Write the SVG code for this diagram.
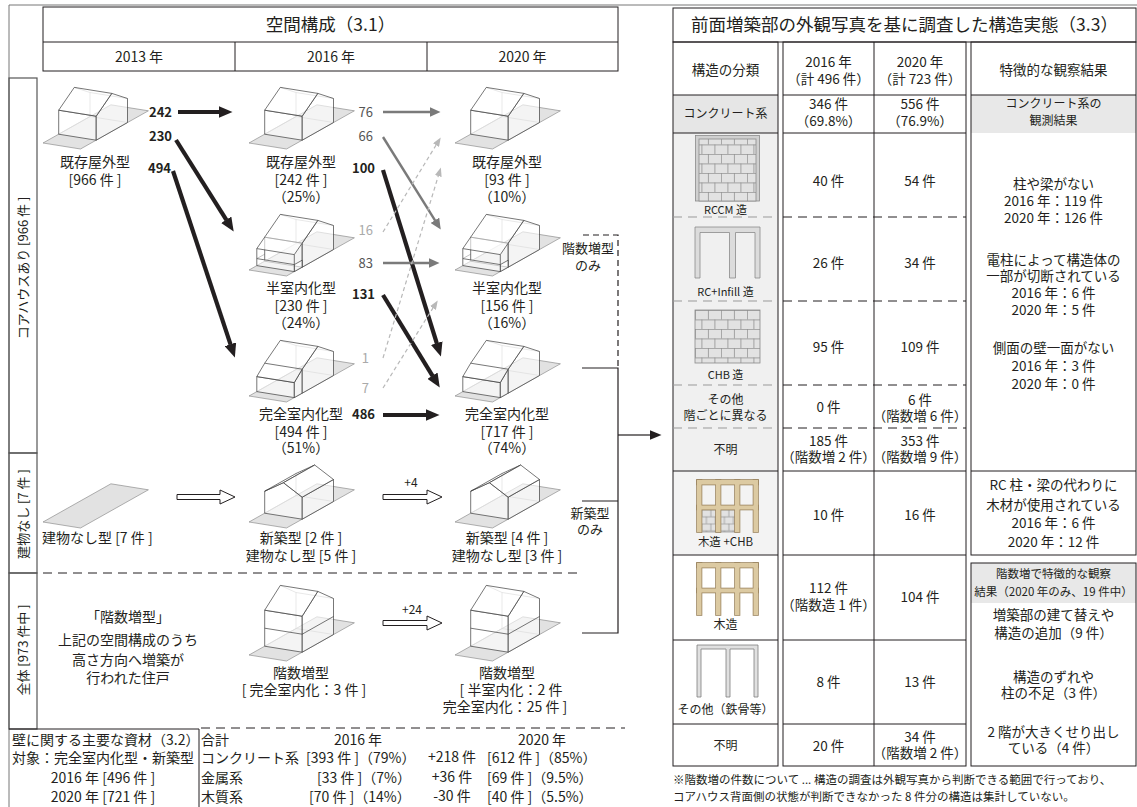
<svg xmlns="http://www.w3.org/2000/svg" width="1137" height="807" viewBox="0 0 1137 807">
<style>
text{font-family:"Noto Sans CJK JP","Noto Sans",sans-serif;fill:#231f20}
.c{text-anchor:middle}
.e{text-anchor:end}
.s18{font-size:17.5px}
.s14{font-size:14px}
.s135{font-size:13.5px}
.s13{font-size:13px}
.s12{font-size:12px}
.s115{font-size:11.5px}
.s11{font-size:11px}
.b{font-weight:bold}
.gr{fill:#555}
.lt{fill:#aaa}
.gnd{fill:#e2e2e2;stroke:#7d7d7d;stroke-width:0.6}
.hid{fill:none;stroke:#9a9a9a;stroke-width:0.6}
.face{fill:#fff;fill-opacity:0.62;stroke:#3c3c3c;stroke-width:0.7;stroke-linejoin:round}
.ln{fill:none;stroke:#3c3c3c;stroke-width:0.7}
.crease{fill:none;stroke:#9a9a9a;stroke-width:0.6}
.frame{fill:none;stroke:#231f20;stroke-width:1}
.outer{fill:none;stroke:#777;stroke-width:1}
.box{fill:none;stroke:#555;stroke-width:1.2}
.dash{fill:none;stroke:#231f20;stroke-width:1;stroke-dasharray:9 6}
.dashg{fill:none;stroke:#999;stroke-width:1;stroke-dasharray:9 6}
.ak{fill:none;stroke:#231f20;stroke-width:4.2;marker-end:url(#ah-k)}
.ag{fill:none;stroke:#7a7a7a;stroke-width:2.4;marker-end:url(#ah-g)}
.al{fill:none;stroke:#b8b8b8;stroke-width:1.2;stroke-dasharray:4 3;marker-end:url(#ah-l)}
.hollow{fill:#fff;stroke:#231f20;stroke-width:1}
.br{fill:none;stroke:#231f20;stroke-width:1.2}
</style>
<defs>
  <marker id="ah-k" markerUnits="userSpaceOnUse" viewBox="0 0 14 12" markerWidth="14" markerHeight="12" refX="0.5" refY="6" orient="auto"><path d="M0,0L14,6L0,12Z" fill="#231f20"/></marker>
  <marker id="ah-g" markerUnits="userSpaceOnUse" viewBox="0 0 11 10" markerWidth="11" markerHeight="10" refX="0.5" refY="5" orient="auto"><path d="M0,0L11,5L0,10Z" fill="#7a7a7a"/></marker>
  <marker id="ah-l" markerUnits="userSpaceOnUse" viewBox="0 0 9 7" markerWidth="9" markerHeight="7" refX="0.5" refY="3.5" orient="auto"><path d="M0,0L9,3.5L0,7Z" fill="#b8b8b8"/></marker>
  <marker id="ah-out" markerUnits="userSpaceOnUse" viewBox="0 0 12 10" markerWidth="12" markerHeight="10" refX="0.5" refY="5" orient="auto"><path d="M0,0L12,5L0,10Z" fill="#231f20"/></marker>

  <pattern id="brick" patternUnits="userSpaceOnUse" x="4" y="4" width="26" height="19">
    <rect width="26" height="19" fill="#e2e2e2"/>
    <path d="M0,0.4H26M0,9.9H26M0.4,0V9.5M13.4,0V9.5M6.9,9.5V19M19.9,9.5V19" stroke="#8f8f8f" stroke-width="0.8" fill="none"/>
  </pattern>
  <pattern id="brickS" patternUnits="userSpaceOnUse" x="701.5" y="509.5" width="18" height="14">
    <rect width="18" height="14" fill="#e2e2e2"/>
    <path d="M0,0.4H18M0,7.4H18M0.4,0V7M9.4,0V7M4.9,7V14M13.9,7V14" stroke="#8f8f8f" stroke-width="0.7" fill="none"/>
  </pattern>

  <!-- plot of land, front-left corner at the origin -->
  <path id="lot" class="gnd" d="M0,0L37.5,6L105.4,-32.2L67.9,-38.2Z"/>

  <!-- existing core house, open front yard -->
  <g id="h-exist">
    <use href="#lot"/>
    <path class="hid" d="M47,-26.5V-50.5M15.7,-8.8L47,-26.5L84.5,-20.5M31.3,-55.6L47,-50.5L84.5,-44.5"/>
    <path class="face" d="M15.7,-8.8L53.2,-2.8V-26.8L15.7,-32.8Z"/>
    <path class="face" d="M53.2,-2.8L84.5,-20.5V-44.5L68.8,-49.6L53.2,-26.8Z"/>
    <path class="face" d="M15.7,-32.8L53.2,-26.8L68.8,-49.6L31.3,-55.6Z"/>
  </g>

  <!-- roof extended over the yard, low front wall -->
  <g id="h-semi">
    <use href="#lot"/>
    <path class="hid" d="M47,-26.5V-50.5M15.7,-8.8L47,-26.5L84.5,-20.5M31.3,-55.6L47,-50.5L84.5,-44.5M7.8,-4.4L15.7,-8.8M7.8,-11.4L15.7,-15.8"/>
    <path class="face" d="M15.7,-8.8L53.2,-2.8V-26.8L15.7,-32.8Z"/>
    <path class="face" d="M53.2,-2.8L84.5,-20.5V-44.5L68.8,-49.6L53.2,-26.8Z"/>
    <path class="face" d="M45.3,1.6L53.2,-2.8V-9.8L45.3,-5.4Z"/>
    <path class="face" d="M7.8,-4.4L45.3,1.6V-5.4L7.8,-11.4Z"/>
    <path class="ln" d="M7.8,-11.4V-21.4M45.3,-5.4V-15.4"/>
    <path class="face" d="M7.8,-21.4L45.3,-15.4L68.8,-49.6L31.3,-55.6Z"/>
    <path class="crease" d="M15.7,-32.8L53.2,-26.8"/>
  </g>

  <!-- yard fully enclosed under the extended roof -->
  <g id="h-full">
    <use href="#lot"/>
    <path class="hid" d="M47,-26.5V-50.5M7.8,-4.4L47,-26.5L84.5,-20.5M31.3,-55.6L47,-50.5L84.5,-44.5"/>
    <path class="face" d="M7.8,-4.4L45.3,1.6V-13.4L7.8,-19.4Z"/>
    <path class="face" d="M45.3,1.6L53.2,-2.8V-26.8L45.3,-13.4Z"/>
    <path class="face" d="M53.2,-2.8L84.5,-20.5V-44.5L68.8,-49.6L53.2,-26.8Z"/>
    <path class="face" d="M7.8,-19.4L45.3,-13.4L53.2,-26.8L68.8,-49.6L31.3,-55.6L15.7,-32.8Z"/>
    <path class="ln" d="M15.7,-32.8L53.2,-26.8"/>
  </g>

  <!-- newly built house, ridge along the plot -->
  <g id="h-new">
    <use href="#lot"/>
    <path class="hid" d="M47,-26.5V-48.5M15.7,-8.8L47,-26.5L84.5,-20.5"/>
    <path class="face" d="M15.7,-8.8L53.2,-2.8V-24.8L34.4,-39.3L15.7,-30.8Z"/>
    <path class="face" d="M53.2,-2.8L84.5,-20.5V-42.5L53.2,-24.8Z"/>
    <path class="face" d="M15.7,-30.8L34.4,-39.3L65.7,-57L47,-48.5Z"/>
    <path class="face" d="M53.2,-24.8L84.5,-42.5L65.7,-57L34.4,-39.3Z"/>
  </g>

  <!-- two-storey house -->
  <g id="h-storey">
    <use href="#lot"/>
    <path class="hid" d="M47,-26.5V-62.5M15.7,-8.8L47,-26.5L84.5,-20.5M31.3,-69.6L47,-62.5L84.5,-56.5"/>
    <path class="face" d="M15.7,-8.8L53.2,-2.8V-38.8L15.7,-44.8Z"/>
    <path class="face" d="M53.2,-2.8L84.5,-20.5V-56.5L68.8,-63.6L53.2,-38.8Z"/>
    <path class="face" d="M15.7,-44.8L53.2,-38.8L68.8,-63.6L31.3,-69.6Z"/>
    <path class="ln" d="M15.7,-26.8L53.2,-20.8L84.5,-38.5"/>
  </g>

  <!-- timber frame, three bays, two levels -->
  <g id="wood">
    <rect x="0" y="0" width="61" height="4.5"/>
    <rect x="0" y="25.5" width="61" height="4"/>
    <rect x="0" y="0" width="4.5" height="52"/>
    <rect x="19" y="0" width="4.5" height="52"/>
    <rect x="38" y="0" width="4.5" height="52"/>
    <rect x="56.5" y="0" width="4.5" height="52"/>
  </g>
</defs>

<rect width="1137" height="807" fill="#fff"/>

<!-- page frame -->
<path class="outer" d="M9,807V5H1137"/>

<!-- ===== spatial composition panel ===== -->
<g id="header">
  <rect class="frame" x="43" y="7" width="575" height="64"/>
  <path class="frame" d="M43,42H618M235,42V71M427,42V71"/>
  <text class="s18 c" x="330.5" y="31">空間構成（3.1）</text>
  <text class="s14 c" x="139" y="62">2013 年</text>
  <text class="s14 c" x="331" y="62">2016 年</text>
  <text class="s14 c" x="522.5" y="62">2020 年</text>
</g>

<g id="row-labels">
  <rect class="box" x="9" y="78" width="28" height="375"/>
  <rect class="box" x="9" y="453" width="28" height="120"/>
  <rect class="box" x="9" y="573" width="28" height="156"/>
  <text class="s13 c" transform="translate(23,268) rotate(-90)" x="0" y="4.5">コアハウスあり [966 件 ]</text>
  <text class="s13 c" transform="translate(23,514) rotate(-90)" x="0" y="4.5">建物なし [7 件 ]</text>
  <text class="s13 c" transform="translate(23,650) rotate(-90)" x="0" y="4.5">全体 [973 件中 ]</text>
</g>

<g id="n2013-exist">
  <use href="#h-exist" x="43" y="143"/>
  <text class="s14 c" x="95" y="167">既存屋外型</text>
  <text class="s14 c" x="95" y="185">[966 件 ]</text>
</g>
<g id="n2016-exist">
  <use href="#h-exist" x="249" y="143"/>
  <text class="s14 c" x="301" y="167">既存屋外型</text>
  <text class="s14 c" x="301" y="185">[242 件 ]</text>
  <text class="s14 c" x="301" y="202">（25%）</text>
</g>
<g id="n2016-semi">
  <use href="#h-semi" x="249" y="270"/>
  <text class="s14 c" x="301" y="293">半室内化型</text>
  <text class="s14 c" x="301" y="311">[230 件 ]</text>
  <text class="s14 c" x="301" y="328">（24%）</text>
</g>
<g id="n2016-full">
  <use href="#h-full" x="249" y="396"/>
  <text class="s14 c" x="301" y="419">完全室内化型</text>
  <text class="s14 c" x="301" y="437">[494 件 ]</text>
  <text class="s14 c" x="301" y="453">（51%）</text>
</g>
<g id="n2020-exist">
  <use href="#h-exist" x="455" y="143"/>
  <text class="s14 c" x="507" y="167">既存屋外型</text>
  <text class="s14 c" x="507" y="185">[93 件 ]</text>
  <text class="s14 c" x="507" y="202">（10%）</text>
</g>
<g id="n2020-semi">
  <use href="#h-semi" x="455" y="270"/>
  <text class="s14 c" x="507" y="293">半室内化型</text>
  <text class="s14 c" x="507" y="311">[156 件 ]</text>
  <text class="s14 c" x="507" y="328">（16%）</text>
</g>
<g id="n2020-full">
  <use href="#h-full" x="455" y="396"/>
  <text class="s14 c" x="507" y="419">完全室内化型</text>
  <text class="s14 c" x="507" y="437">[717 件 ]</text>
  <text class="s14 c" x="507" y="453">（74%）</text>
</g>
<g id="n2013-vacant">
  <use href="#lot" x="43" y="522"/>
  <text class="s14" x="42" y="543">建物なし型 [7 件 ]</text>
</g>
<g id="n2016-new">
  <use href="#h-new" x="249" y="522"/>
  <text class="s14 c" x="301" y="543">新築型 [2 件 ]</text>
  <text class="s14 c" x="301" y="561">建物なし型 [5 件 ]</text>
</g>
<g id="n2020-new">
  <use href="#h-new" x="455" y="522"/>
  <text class="s14 c" x="507" y="543">新築型 [4 件 ]</text>
  <text class="s14 c" x="507" y="561">建物なし型 [3 件 ]</text>
</g>
<g id="n-storey-note">
  <text class="s14 c" x="128" y="622">「階数増型」</text>
  <text class="s14 c" x="128" y="645">上記の空間構成のうち</text>
  <text class="s14 c" x="128" y="665">高さ方向へ増築が</text>
  <text class="s14 c" x="128" y="683">行われた住戸</text>
</g>
<g id="n2016-storey">
  <use href="#h-storey" x="249" y="655"/>
  <text class="s14 c" x="301" y="678">階数増型</text>
  <text class="s14 c" x="304" y="695">[ 完全室内化：3 件 ]</text>
</g>
<g id="n2020-storey">
  <use href="#h-storey" x="455" y="655"/>
  <text class="s14 c" x="507" y="678">階数増型</text>
  <text class="s14 c" x="511" y="695">[ 半室内化：2 件</text>
  <text class="s14 c" x="505" y="712">完全室内化：25 件 ]</text>
</g>

<!-- section separators -->
<path class="dash" d="M43,573H582"/>

<g id="connectors">
  <path class="ak" d="M178,112L219,112"/>
  <path class="ak" d="M176,140L226.5,220.2"/>
  <path class="ak" d="M173,171L230.6,344.7"/>
  <path class="ak" d="M383,170L436.9,343.6"/>
  <path class="ak" d="M383,295L432.7,376.1"/>
  <path class="ak" d="M383,415L426,415"/>
  <path class="ag" d="M383,112L430,112"/>
  <path class="ag" d="M383,137L435.2,220.7"/>
  <path class="ag" d="M383,263L429,263"/>
  <path class="al" d="M383,232L436.3,144.7"/>
  <path class="al" d="M383,358L438.4,175.6"/>
  <path class="al" d="M383,388L433.2,307.6"/>
  <path class="hollow" d="M177,494.5H220V490L235,497L220,504V499.5H177Z"/>
  <path class="hollow" d="M383,494.5H427V490L442,497L427,504V499.5H383Z"/>
  <path class="hollow" d="M383,620.5H427V616L442,623L427,630V625.5H383Z"/>
  <path class="br" d="M582,368H618V633H582M582,501H618"/>
  <path class="br" d="M618,435H650" marker-end="url(#ah-out)"/>
  <path class="br" stroke-dasharray="6 4" d="M583,235H618V368"/>
</g>

<g id="flow-labels">
  <text class="s13 b e" x="172" y="116.5">242</text>
  <text class="s13 b e" x="172" y="140.5">230</text>
  <text class="s13 b e" x="171" y="172.5">494</text>
  <text class="s13 e gr" x="373" y="116.5">76</text>
  <text class="s13 e gr" x="373" y="140.5">66</text>
  <text class="s13 b e" x="375" y="172.5">100</text>
  <text class="s13 e lt" x="373" y="234.5">16</text>
  <text class="s13 e gr" x="373" y="267.5">83</text>
  <text class="s13 b e" x="375" y="298.5">131</text>
  <text class="s13 e lt" x="369" y="362.5">1</text>
  <text class="s13 e lt" x="369" y="392.5">7</text>
  <text class="s13 b e" x="375" y="419">486</text>
  <text class="s12 c" x="411" y="487">+4</text>
  <text class="s12 c" x="412" y="614">+24</text>
  <text class="s13 c" x="588" y="253">階数増型</text>
  <text class="s13 c" x="588" y="270">のみ</text>
  <text class="s13 c" x="590" y="518">新築型</text>
  <text class="s13 c" x="590" y="534">のみ</text>
</g>

<!-- wall materials summary -->
<g id="materials">
  <path class="frame" d="M9,729H199M199,729V807"/>
  <path class="dash" d="M201,728H625"/>
  <text class="s14" x="12" y="745">壁に関する主要な資材（3.2）</text>
  <text class="s14" x="12" y="763">対象：完全室内化型・新築型</text>
  <text class="s14 c" x="103" y="783">2016 年 [496 件 ]</text>
  <text class="s14 c" x="103" y="802">2020 年 [721 件 ]</text>
  <text class="s14" x="201" y="745">合計</text>
  <text class="s14 c" x="358" y="745">2016 年</text>
  <text class="s14 c" x="542" y="745">2020 年</text>
  <text class="s14" x="201" y="763">コンクリート系</text>
  <text class="s14" x="306" y="763">[393 件 ]（79%）</text>
  <text class="s14 c" x="452" y="762">+218 件</text>
  <text class="s14" x="487" y="763">[612 件 ]（85%）</text>
  <text class="s14" x="201" y="783">金属系</text>
  <text class="s14" x="317" y="783">[33 件 ]（7%）</text>
  <text class="s14 c" x="452" y="782">+36 件</text>
  <text class="s14" x="487" y="783">[69 件 ]（9.5%）</text>
  <text class="s14" x="201" y="802">木質系</text>
  <text class="s14" x="309" y="802">[70 件 ]（14%）</text>
  <text class="s14 c" x="452" y="801">-30 件</text>
  <text class="s14" x="487" y="802">[40 件 ]（5.5%）</text>
</g>

<!-- ===== structure survey table ===== -->
<g id="structure-table">
  <rect x="673" y="95" width="105" height="38" fill="#e6e6e6"/>
  <rect x="673" y="133" width="105" height="338" fill="#f0f0f0"/>
  <rect x="673" y="471" width="105" height="84" fill="#f3f3f3"/>
  <rect x="971" y="95" width="165" height="38" fill="#e8e8e8"/>
  <rect x="971" y="563" width="165" height="40" fill="#e8e8e8"/>

  <rect class="frame" x="673" y="8" width="463" height="34"/>
  <rect class="frame" x="673" y="42" width="105" height="724"/>
  <rect class="frame" x="783" y="42" width="183" height="724"/>
  <rect class="frame" x="971" y="42" width="165" height="513"/>
  <rect class="frame" x="971" y="563" width="165" height="203"/>
  <path class="frame" d="M874,42V766"/>
  <path class="frame" d="M673,95H778M783,95H966M971,95H1136M673,133H778M783,133H966M673,471H778M783,471H966M971,471H1136M673,555H778M783,555H966M673,640H778M783,640H966M673,724H778M783,724H966"/>
  <path class="dashg" d="M673,217H778M673,301H778M673,385H778M673,428H778"/>
  <path class="dash" d="M783,217H966M783,301H966M783,385H966M783,428H966"/>

  <text class="s18 c" x="904.5" y="31">前面増築部の外観写真を基に調査した構造実態（3.3）</text>

  <text class="s135 c" x="725.5" y="75">構造の分類</text>
  <text class="s135 c" x="828.5" y="67">2016 年</text>
  <text class="s135 c" x="828.5" y="84">（計 496 件）</text>
  <text class="s135 c" x="920" y="67">2020 年</text>
  <text class="s135 c" x="920" y="84">（計 723 件）</text>
  <text class="s135 c" x="1053.5" y="75">特徴的な観察結果</text>

  <text class="s12 c" x="725.5" y="118">コンクリート系</text>
  <text class="s135 c" x="828.5" y="109">346 件</text>
  <text class="s135 c" x="828.5" y="126">（69.8%）</text>
  <text class="s135 c" x="920" y="109">556 件</text>
  <text class="s135 c" x="920" y="126">（76.9%）</text>
  <text class="s12 c" x="1053.5" y="108">コンクリート系の</text>
  <text class="s12 c" x="1053.5" y="125">観測結果</text>

  <!-- RCCM -->
  <g transform="translate(691,131)">
    <rect x="4.5" y="4.5" width="64" height="65.5" fill="#d0d0d0" stroke="#8a8a8a" stroke-width="0.8"/>
    <rect x="8" y="8" width="57" height="62" fill="url(#brick)" stroke="#8a8a8a" stroke-width="0.8"/>
  </g>
  <text class="s11 c" x="725.5" y="214">RCCM 造</text>
  <text class="s135 c" x="828.5" y="186">40 件</text>
  <text class="s135 c" x="920" y="186">54 件</text>

  <!-- RC + infill -->
  <path d="M695,278V227H760V278H755V232.5H735.5V278H729.5V232.5H700V278Z" fill="#dcdcdc" stroke="#8a8a8a" stroke-width="0.8"/>
  <text class="s11 c" x="725.5" y="296">RC+Infill 造</text>
  <text class="s135 c" x="828.5" y="268">26 件</text>
  <text class="s135 c" x="920" y="268">34 件</text>

  <!-- CHB -->
  <g transform="translate(691,306)">
    <rect x="4" y="4" width="65" height="53" fill="url(#brick)" stroke="#8a8a8a" stroke-width="0.8"/>
  </g>
  <text class="s11 c" x="725.5" y="379">CHB 造</text>
  <text class="s135 c" x="828.5" y="352">95 件</text>
  <text class="s135 c" x="920" y="352">109 件</text>

  <text class="s12 c" x="725.5" y="404">その他</text>
  <text class="s12 c" x="725.5" y="420">階ごとに異なる</text>
  <text class="s135 c" x="828.5" y="412">0 件</text>
  <text class="s135 c" x="920" y="405">6 件</text>
  <text class="s135 c" x="920" y="421">（階数増 6 件）</text>

  <text class="s12 c" x="725.5" y="454">不明</text>
  <text class="s135 c" x="828.5" y="446">185 件</text>
  <text class="s135 c" x="828.5" y="462">（階数増 2 件）</text>
  <text class="s135 c" x="920" y="446">353 件</text>
  <text class="s135 c" x="920" y="462">（階数増 9 件）</text>

  <!-- timber + CHB -->
  <rect x="701.5" y="509.5" width="36.5" height="22.5" fill="url(#brickS)" stroke="#8f8f8f" stroke-width="0.7"/>
  <use href="#wood" x="697" y="480" fill="#9c8560" stroke="#9c8560" stroke-width="1.6"/>
  <use href="#wood" x="697" y="480" fill="#dccaa2"/>
  <text class="s115 c" x="725.5" y="546">木造 +CHB</text>
  <text class="s135 c" x="828.5" y="520">10 件</text>
  <text class="s135 c" x="920" y="520">16 件</text>

  <!-- timber -->
  <use href="#wood" x="697" y="563" fill="#9c8560" stroke="#9c8560" stroke-width="1.6"/>
  <use href="#wood" x="697" y="563" fill="#dccaa2"/>
  <text class="s12 c" x="725.5" y="629">木造</text>
  <text class="s135 c" x="828.5" y="593">112 件</text>
  <text class="s135 c" x="828.5" y="610">（階数造 1 件）</text>
  <text class="s135 c" x="920" y="602">104 件</text>

  <!-- steel and others -->
  <path d="M697,697V645H758V697H754V649H730V697H726V649H701V697Z" fill="#e0e0e0" stroke="#7d7d7d" stroke-width="0.8"/>
  <text class="s12 c" x="725.5" y="714">その他（鉄骨等）</text>
  <text class="s135 c" x="828.5" y="687">8 件</text>
  <text class="s135 c" x="920" y="687">13 件</text>

  <text class="s12 c" x="725.5" y="750">不明</text>
  <text class="s135 c" x="828.5" y="751">20 件</text>
  <text class="s135 c" x="920" y="742">34 件</text>
  <text class="s135 c" x="920" y="758">（階数増 2 件）</text>

  <!-- observations -->
  <text class="s135 c" x="1053.5" y="189">柱や梁がない</text>
  <text class="s135 c" x="1053.5" y="206">2016 年：119 件</text>
  <text class="s135 c" x="1053.5" y="223">2020 年：126 件</text>
  <text class="s135 c" x="1053.5" y="265">電柱によって構造体の</text>
  <text class="s135 c" x="1053.5" y="281">一部が切断されている</text>
  <text class="s135 c" x="1053.5" y="298">2016 年：6 件</text>
  <text class="s135 c" x="1053.5" y="315">2020 年：5 件</text>
  <text class="s135 c" x="1053.5" y="353">側面の壁一面がない</text>
  <text class="s135 c" x="1053.5" y="371">2016 年：3 件</text>
  <text class="s135 c" x="1053.5" y="389">2020 年：0 件</text>
  <text class="s135 c" x="1053.5" y="490">RC 柱・梁の代わりに</text>
  <text class="s135 c" x="1053.5" y="510">木材が使用されている</text>
  <text class="s135 c" x="1053.5" y="528">2016 年：6 件</text>
  <text class="s135 c" x="1053.5" y="547">2020 年：12 件</text>
  <text class="s115 c" x="1053.5" y="578">階数増で特徴的な観察</text>
  <text class="s115 c" x="1053.5" y="596">結果（2020 年のみ、19 件中）</text>
  <text class="s135 c" x="1053.5" y="620">増築部の建て替えや</text>
  <text class="s135 c" x="1053.5" y="638">構造の追加（9 件）</text>
  <text class="s135 c" x="1053.5" y="682">構造のずれや</text>
  <text class="s135 c" x="1053.5" y="698">柱の不足（3 件）</text>
  <text class="s135 c" x="1053.5" y="737">2 階が大きくせり出し</text>
  <text class="s135 c" x="1053.5" y="753">ている（4 件）</text>

  <text class="s115" x="673" y="784">※階数増の件数について ... 構造の調査は外観写真から判断できる範囲で行っており、</text>
  <text class="s115" x="673" y="801">コアハウス背面側の状態が判断できなかった 8 件分の構造は集計していない。</text>
</g>
</svg>
